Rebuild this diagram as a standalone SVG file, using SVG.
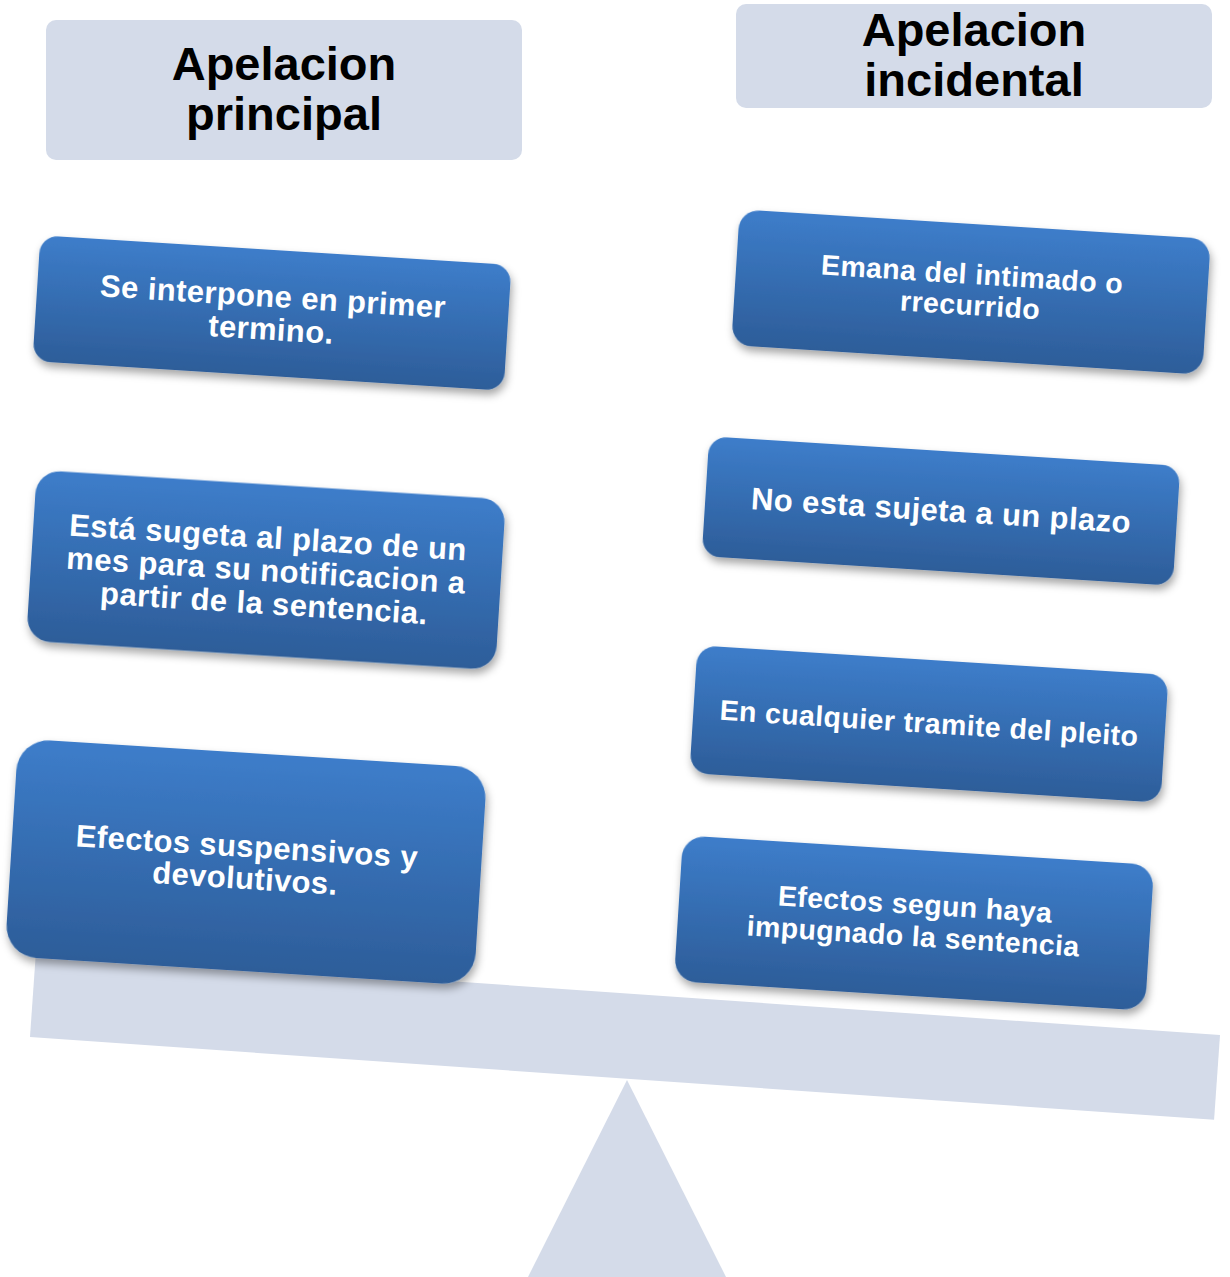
<svg xmlns="http://www.w3.org/2000/svg" width="1230" height="1277" viewBox="0 0 1230 1277">
<style>
.hdr{fill:#d4dbe9;}
.hdrt{font-family:"Liberation Sans",Arial,sans-serif;font-weight:bold;font-size:47px;fill:#000;text-anchor:middle;}
.box{fill:url(#bg);filter:url(#sh);}
.bt{font-family:"Liberation Sans",Arial,sans-serif;font-weight:bold;font-size:31px;letter-spacing:0.4px;fill:#fff;text-anchor:middle;}
.bt.s{font-size:28.5px;letter-spacing:0.4px;}
.base{fill:#d4dbe9;}
</style>
<defs>
<linearGradient id="bg" x1="0" y1="0" x2="0" y2="1">
<stop offset="0" stop-color="#3d7dca"/>
<stop offset="1" stop-color="#2d5d99"/>
</linearGradient>
<filter id="sh" x="-10%" y="-20%" width="120%" height="150%">
<feDropShadow dx="2" dy="5" stdDeviation="4" flood-color="#000" flood-opacity="0.35"/>
</filter>
</defs>
<g id="fulcrum"><polygon class="base" points="627,1080 528,1277 726,1277"/></g>
<g id="beam"><rect class="base" x="-593.5" y="-42.5" width="1187" height="85" transform="translate(625,1036) rotate(4)"/></g>
<g id="h1"><rect class="hdr" x="46" y="20" width="476" height="140" rx="10"/>
<text class="hdrt" x="284" y="80">Apelacion</text><text class="hdrt" x="284" y="130">principal</text></g>
<g id="h2"><rect class="hdr" x="736" y="4" width="476" height="104" rx="10"/>
<text class="hdrt" x="974" y="46">Apelacion</text><text class="hdrt" x="974" y="96">incidental</text></g>
<g id="b1" transform="translate(272,313) rotate(3.6)"><rect class="box" x="-236" y="-63" width="472" height="126" rx="18"/>
<text class="bt" x="0" y="-6">Se interpone en primer</text><text class="bt" x="0" y="27">termino.</text></g>
<g id="b2" transform="translate(266,570) rotate(3.6)"><rect class="box" x="-235" y="-85.5" width="470" height="171" rx="24"/>
<text class="bt" x="0" y="-22">Está sugeta al plazo de un</text><text class="bt" x="0" y="11">mes para su notificacion a</text><text class="bt" x="0" y="44">partir de la sentencia.</text></g>
<g id="b3" transform="translate(246,862) rotate(3.6)"><rect class="box" x="-235" y="-109" width="470" height="218" rx="32"/>
<text class="bt" x="0" y="-5">Efectos suspensivos y</text><text class="bt" x="0" y="27">devolutivos.</text></g>
<g id="b4" transform="translate(971,292) rotate(3.6)"><rect class="box" x="-236" y="-68" width="472" height="136" rx="20"/>
<text class="bt s" x="0" y="-8">Emana del intimado o</text><text class="bt s" x="0" y="23">rrecurrido</text></g>
<g id="b5" transform="translate(941,511) rotate(3.6)"><rect class="box" x="-236" y="-60" width="472" height="120" rx="18"/>
<text class="bt" x="0" y="10">No esta sujeta a un plazo</text></g>
<g id="b6" transform="translate(929,724) rotate(3.6)"><rect class="box" x="-236" y="-64" width="472" height="128" rx="19"/>
<text class="bt s" x="0" y="9">En cualquier tramite del pleito</text></g>
<g id="b7" transform="translate(914,923) rotate(3.6)"><rect class="box" x="-236" y="-73" width="472" height="146" rx="22"/>
<text class="bt s" x="0" y="-9">Efectos segun haya</text><text class="bt s" x="0" y="23">impugnado la sentencia</text></g>
<g id="connectors"></g>
</svg>
